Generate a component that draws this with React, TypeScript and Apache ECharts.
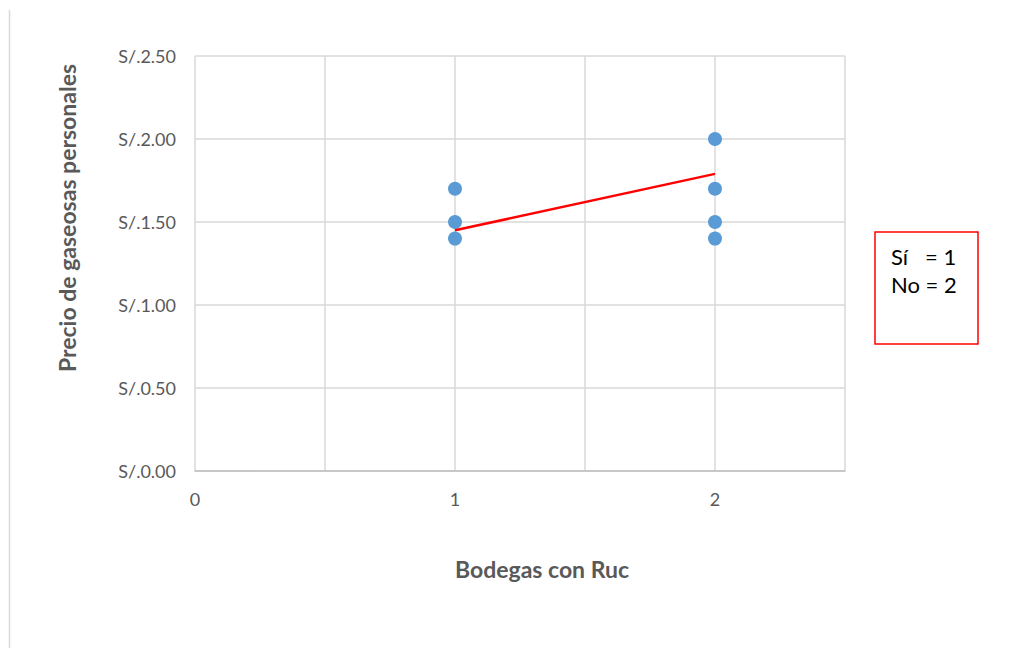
import React, { useEffect, useRef } from "react";
import * as echarts from "echarts";

// Prices by "Bodegas con Ruc" group (1 = Sí, 2 = No)
const groupSi: number[][] = [
  [1, 1.7],
  [1, 1.5],
  [1, 1.4],
];
const groupNo: number[][] = [
  [2, 2.0],
  [2, 1.7],
  [2, 1.5],
  [2, 1.4],
];
// Linear trend line endpoints
const trendX = [1, 2];
const trendY = [1.45, 1.79];

const yTitle = "Precio de gaseosas personales";
const xTitle = "Bodegas con Ruc";
const noteLines = ["Sí   = 1", "No = 2"];

const FONT = "Lato, 'Open Sans', 'Liberation Sans', sans-serif";

export default function App() {
  const ref = useRef<HTMLDivElement>(null);

  useEffect(() => {
    if (!ref.current) return;
    const chart = echarts.init(ref.current, undefined, { renderer: "svg" });
    const points = [...groupSi, ...groupNo];
    chart.setOption({
      animation: false,
      backgroundColor: "#ffffff",
      grid: { left: 195, top: 56, right: 176, bottom: 177 },
      xAxis: {
        type: "value",
        min: 0,
        max: 2.5,
        interval: 0.5,
        axisLine: { show: true, lineStyle: { color: "#bfbfbf", width: 1.5 } },
        axisTick: { show: false },
        splitLine: { show: true, lineStyle: { color: "#d9d9d9", width: 1.5 } },
        axisLabel: {
          margin: 19,
          color: "#595959",
          fontSize: 18,
          fontFamily: FONT,
          formatter: (v: number) => (Number.isInteger(v) && v < 2.5 ? String(v) : ""),
        },
      },
      yAxis: {
        type: "value",
        min: 0,
        max: 2.5,
        interval: 0.5,
        axisLine: { show: false },
        axisTick: { show: false },
        splitLine: { show: true, lineStyle: { color: "#d9d9d9", width: 1.5 } },
        axisLabel: {
          margin: 19,
          color: "#595959",
          fontSize: 18,
          fontFamily: FONT,
          formatter: (v: number) => "S/." + v.toFixed(2),
        },
      },
      series: [
        {
          type: "scatter",
          data: points,
          symbolSize: 14,
          itemStyle: { color: "#5b9bd5", opacity: 1 },
          z: 2,
        },
        {
          type: "line",
          data: trendX.map((x, i) => [x, trendY[i]]),
          showSymbol: false,
          symbol: "none",
          lineStyle: { color: "#ff0000", width: 2.5 },
          z: 3,
        },
      ],
      graphic: [
        {
          type: "line",
          shape: { x1: 9.5, y1: 10, x2: 9.5, y2: 648 },
          style: { stroke: "#d9d9d9", lineWidth: 1.5 },
        },
        {
          type: "text",
          x: 67,
          y: 218,
          rotation: Math.PI / 2,
          style: {
            text: yTitle,
            fill: "#595959",
            font: `bold 23px ${FONT}`,
            align: "center",
            verticalAlign: "middle",
          },
        },
        {
          type: "text",
          x: 542,
          y: 569,
          style: {
            text: xTitle,
            fill: "#595959",
            font: `bold 23px ${FONT}`,
            align: "center",
            verticalAlign: "middle",
          },
        },
        {
          type: "rect",
          shape: { x: 875, y: 232, width: 103, height: 112 },
          style: { fill: "#ffffff", stroke: "#ff0000", lineWidth: 1.5 },
        },
        {
          type: "text",
          x: 891,
          y: 256,
          style: {
            text: noteLines[0],
            fill: "#000000",
            font: `22px ${FONT}`,
            verticalAlign: "middle",
          },
        },
        {
          type: "text",
          x: 891,
          y: 284,
          style: {
            text: noteLines[1],
            fill: "#000000",
            font: `22px ${FONT}`,
            verticalAlign: "middle",
          },
        },
      ],
    });
    return () => chart.dispose();
  }, []);

  return (
    <div
      ref={ref}
      style={{ position: "fixed", left: 0, top: 0, width: 1021, height: 648 }}
    />
  );
}
